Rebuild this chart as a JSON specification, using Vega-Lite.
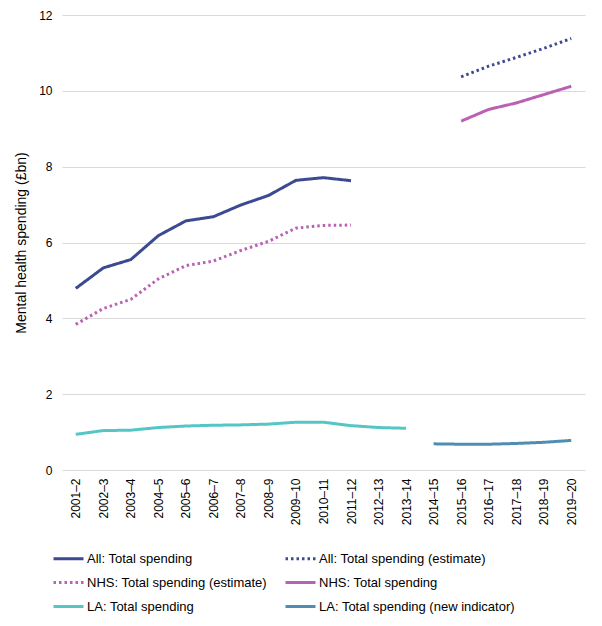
{
  "$schema": "https://vega.github.io/schema/vega-lite/v6.json",
  "width": 523,
  "height": 455,
  "autosize": {"type": "none"},
  "padding": {"left": 62, "top": 15, "right": 17, "bottom": 156},
  "background": "white",
  "config": {
    "font": "Liberation Sans",
    "view": {"stroke": null},
    "axis": {"labelFont": "Liberation Sans", "titleFont": "Liberation Sans", "labelColor": "#000000", "titleColor": "#000000"}
  },
  "data": {
    "values": [
      {"year": "2001–2", "series": "All: Total spending", "value": 4.79},
      {"year": "2002–3", "series": "All: Total spending", "value": 5.33},
      {"year": "2003–4", "series": "All: Total spending", "value": 5.55},
      {"year": "2004–5", "series": "All: Total spending", "value": 6.18},
      {"year": "2005–6", "series": "All: Total spending", "value": 6.57},
      {"year": "2006–7", "series": "All: Total spending", "value": 6.68},
      {"year": "2007–8", "series": "All: Total spending", "value": 6.99},
      {"year": "2008–9", "series": "All: Total spending", "value": 7.24},
      {"year": "2009–10", "series": "All: Total spending", "value": 7.64},
      {"year": "2010–11", "series": "All: Total spending", "value": 7.71},
      {"year": "2011–12", "series": "All: Total spending", "value": 7.63},
      {"year": "2015–16", "series": "All: Total spending (estimate)", "value": 10.37},
      {"year": "2016–17", "series": "All: Total spending (estimate)", "value": 10.65},
      {"year": "2017–18", "series": "All: Total spending (estimate)", "value": 10.88},
      {"year": "2018–19", "series": "All: Total spending (estimate)", "value": 11.12},
      {"year": "2019–20", "series": "All: Total spending (estimate)", "value": 11.38},
      {"year": "2001–2", "series": "NHS: Total spending (estimate)", "value": 3.84},
      {"year": "2002–3", "series": "NHS: Total spending (estimate)", "value": 4.26},
      {"year": "2003–4", "series": "NHS: Total spending (estimate)", "value": 4.5},
      {"year": "2004–5", "series": "NHS: Total spending (estimate)", "value": 5.04},
      {"year": "2005–6", "series": "NHS: Total spending (estimate)", "value": 5.39},
      {"year": "2006–7", "series": "NHS: Total spending (estimate)", "value": 5.51},
      {"year": "2007–8", "series": "NHS: Total spending (estimate)", "value": 5.79},
      {"year": "2008–9", "series": "NHS: Total spending (estimate)", "value": 6.03},
      {"year": "2009–10", "series": "NHS: Total spending (estimate)", "value": 6.38},
      {"year": "2010–11", "series": "NHS: Total spending (estimate)", "value": 6.45},
      {"year": "2011–12", "series": "NHS: Total spending (estimate)", "value": 6.46},
      {"year": "2015–16", "series": "NHS: Total spending", "value": 9.2},
      {"year": "2016–17", "series": "NHS: Total spending", "value": 9.51},
      {"year": "2017–18", "series": "NHS: Total spending", "value": 9.68},
      {"year": "2018–19", "series": "NHS: Total spending", "value": 9.9},
      {"year": "2019–20", "series": "NHS: Total spending", "value": 10.12},
      {"year": "2001–2", "series": "LA: Total spending", "value": 0.94},
      {"year": "2002–3", "series": "LA: Total spending", "value": 1.04},
      {"year": "2003–4", "series": "LA: Total spending", "value": 1.05},
      {"year": "2004–5", "series": "LA: Total spending", "value": 1.12},
      {"year": "2005–6", "series": "LA: Total spending", "value": 1.16},
      {"year": "2006–7", "series": "LA: Total spending", "value": 1.18},
      {"year": "2007–8", "series": "LA: Total spending", "value": 1.19},
      {"year": "2008–9", "series": "LA: Total spending", "value": 1.21},
      {"year": "2009–10", "series": "LA: Total spending", "value": 1.26},
      {"year": "2010–11", "series": "LA: Total spending", "value": 1.26},
      {"year": "2011–12", "series": "LA: Total spending", "value": 1.17},
      {"year": "2012–13", "series": "LA: Total spending", "value": 1.12},
      {"year": "2013–14", "series": "LA: Total spending", "value": 1.1},
      {"year": "2014–15", "series": "LA: Total spending (new indicator)", "value": 0.69},
      {"year": "2015–16", "series": "LA: Total spending (new indicator)", "value": 0.68},
      {"year": "2016–17", "series": "LA: Total spending (new indicator)", "value": 0.68},
      {"year": "2017–18", "series": "LA: Total spending (new indicator)", "value": 0.7},
      {"year": "2018–19", "series": "LA: Total spending (new indicator)", "value": 0.73},
      {"year": "2019–20", "series": "LA: Total spending (new indicator)", "value": 0.78}
    ]
  },
  "mark": {"type": "line", "strokeCap": "butt", "strokeJoin": "round"},
  "encoding": {
    "x": {
      "field": "year",
      "type": "ordinal",
      "scale": {
        "type": "point",
        "padding": 0.5,
        "domain": ["2001–2", "2002–3", "2003–4", "2004–5", "2005–6", "2006–7", "2007–8", "2008–9", "2009–10", "2010–11", "2011–12", "2012–13", "2013–14", "2014–15", "2015–16", "2016–17", "2017–18", "2018–19", "2019–20"]
      },
      "axis": {
        "title": null,
        "labelAngle": -90,
        "labelFontSize": 12,
        "labelPadding": 8,
        "ticks": false,
        "domain": false,
        "grid": false
      }
    },
    "y": {
      "field": "value",
      "type": "quantitative",
      "scale": {"domain": [0, 12], "nice": false},
      "axis": {
        "title": "Mental health spending (£bn)",
        "titleFontSize": 14,
        "titleFontWeight": "normal",
        "titlePadding": 10,
        "values": [0, 2, 4, 6, 8, 10, 12],
        "labelFontSize": 12,
        "labelPadding": 10,
        "ticks": false,
        "domain": false,
        "grid": true,
        "gridColor": "#d9d9d9",
        "gridWidth": 1
      }
    },
    "color": {
      "field": "series",
      "type": "nominal",
      "scale": {
        "domain": ["All: Total spending", "All: Total spending (estimate)", "NHS: Total spending (estimate)", "NHS: Total spending", "LA: Total spending", "LA: Total spending (new indicator)"],
        "range": ["#3b4a91", "#3b4a91", "#b962b3", "#b962b3", "#55c6c6", "#4f8db2"]
      },
      "legend": {
        "title": null,
        "orient": "none",
        "direction": "horizontal",
        "legendX": -10,
        "legendY": 527,
        "columns": 2,
        "columnPadding": 12,
        "rowPadding": -7.3,
        "labelFontSize": 13,
        "labelLimit": 400,
        "labelColor": "#000000",
        "labelOffset": 2,
        "symbolType": "stroke",
        "symbolSize": 900,
        "symbolStrokeWidth": 3
      }
    },
    "strokeDash": {
      "field": "series",
      "type": "nominal",
      "scale": {
        "domain": ["All: Total spending", "All: Total spending (estimate)", "NHS: Total spending (estimate)", "NHS: Total spending", "LA: Total spending", "LA: Total spending (new indicator)"],
        "range": [[1, 0], [2.5, 3], [2.5, 3], [1, 0], [1, 0], [1, 0]]
      },
      "legend": {
        "title": null,
        "orient": "none",
        "direction": "horizontal",
        "legendX": -10,
        "legendY": 527,
        "columns": 2,
        "columnPadding": 12,
        "rowPadding": -7.3,
        "labelFontSize": 13,
        "labelLimit": 400,
        "labelColor": "#000000",
        "labelOffset": 2,
        "symbolType": "stroke",
        "symbolSize": 900,
        "symbolStrokeWidth": 3
      }
    },
    "strokeWidth": {"value": 3}
  }
}
